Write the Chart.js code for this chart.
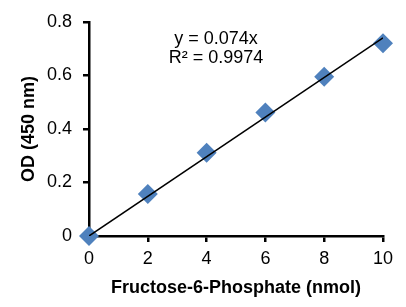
<!DOCTYPE html>
<html lang="en">
<head>
<meta charset="UTF-8">
<title>Fructose-6-Phosphate standard curve</title>
<style>
  * { margin: 0; padding: 0; }
  body { background: #fff; width: 406px; height: 307px; overflow: hidden; }
  canvas { display: block; }
</style>
</head>
<body>
<canvas id="chart" width="406" height="307"></canvas>
<script src="https://cdn.jsdelivr.net/npm/chart.js@4.4.0/dist/chart.umd.min.js"></script>
<script>
// ── Data ─────────────────────────────────────────────────────────────────────
const amounts = [0, 2, 4, 6, 8, 10];                 // nmol
const odValues = [0, 0.157, 0.311, 0.461, 0.595, 0.72];
const trendX = [0, 10];
const trendY = [0, 0.74];                            // y = 0.074x
const equationLines = ["y = 0.074x", "R\u00B2 = 0.9974"];

const FONT = "'Liberation Sans', Arial, sans-serif";

// ── Equation label, drawn inside the plot area ───────────────────────────────
const equationPlugin = {
  id: "equation",
  afterDatasetsDraw(chart) {
    const { ctx, chartArea } = chart;
    ctx.save();
    ctx.fillStyle = "#000";
    ctx.font = `18px ${FONT}`;
    ctx.textAlign = "center";
    ctx.textBaseline = "middle";
    const cx = chartArea.left + 127;
    equationLines.forEach((t, i) => ctx.fillText(t, cx, chartArea.top + 17 + i * 19));
    ctx.restore();
  },
};

const axisCommon = {
  type: "linear",
  border: { display: true, color: "#000", width: 2.5 },
  grid: { drawOnChartArea: false, color: "#000", lineWidth: 2.5, tickLength: 6 },
  ticks: { color: "#000", font: { family: FONT, size: 18 } },
  title: { display: true, color: "#000", font: { family: FONT, size: 18, weight: "bold" } },
};

new Chart(document.getElementById("chart"), {
  type: "scatter",
  data: {
    datasets: [
      {
        label: "trend",
        type: "line",
        data: trendX.map((x, i) => ({ x, y: trendY[i] })),
        borderColor: "#000",
        borderWidth: 1.5,
        pointRadius: 0,
        fill: false,
        order: 0,
      },
      {
        label: "OD",
        data: amounts.map((x, i) => ({ x, y: odValues[i] })),
        pointStyle: "rectRot",
        pointRadius: 10,
        pointHoverRadius: 10,
        backgroundColor: "#4F81BD",
        borderColor: "#4F81BD",
        borderWidth: 0,
        clip: false,
        order: 1,
      },
    ],
  },
  options: {
    responsive: false,
    animation: false,
    layout: { padding: { top: 20, right: 23, left: 0, bottom: 0 } },
    plugins: { legend: { display: false }, tooltip: { enabled: false } },
    scales: {
      x: {
        ...axisCommon,
        min: 0, max: 10,
        ticks: { ...axisCommon.ticks, stepSize: 2, padding: 6 },
        title: { ...axisCommon.title, text: "Fructose-6-Phosphate (nmol)", padding: { top: 0, bottom: 8 } },
        afterFit: (s) => { s.height = 71; },
      },
      y: {
        ...axisCommon,
        min: 0, max: 0.8,
        ticks: { ...axisCommon.ticks, stepSize: 0.2, padding: 11 },
        title: { ...axisCommon.title, text: "OD (450 nm)", padding: { top: 18, bottom: 0 } },
        afterFit: (s) => { s.width = 89; },
      },
    },
  },
  plugins: [equationPlugin],
});
</script>
</body>
</html>
